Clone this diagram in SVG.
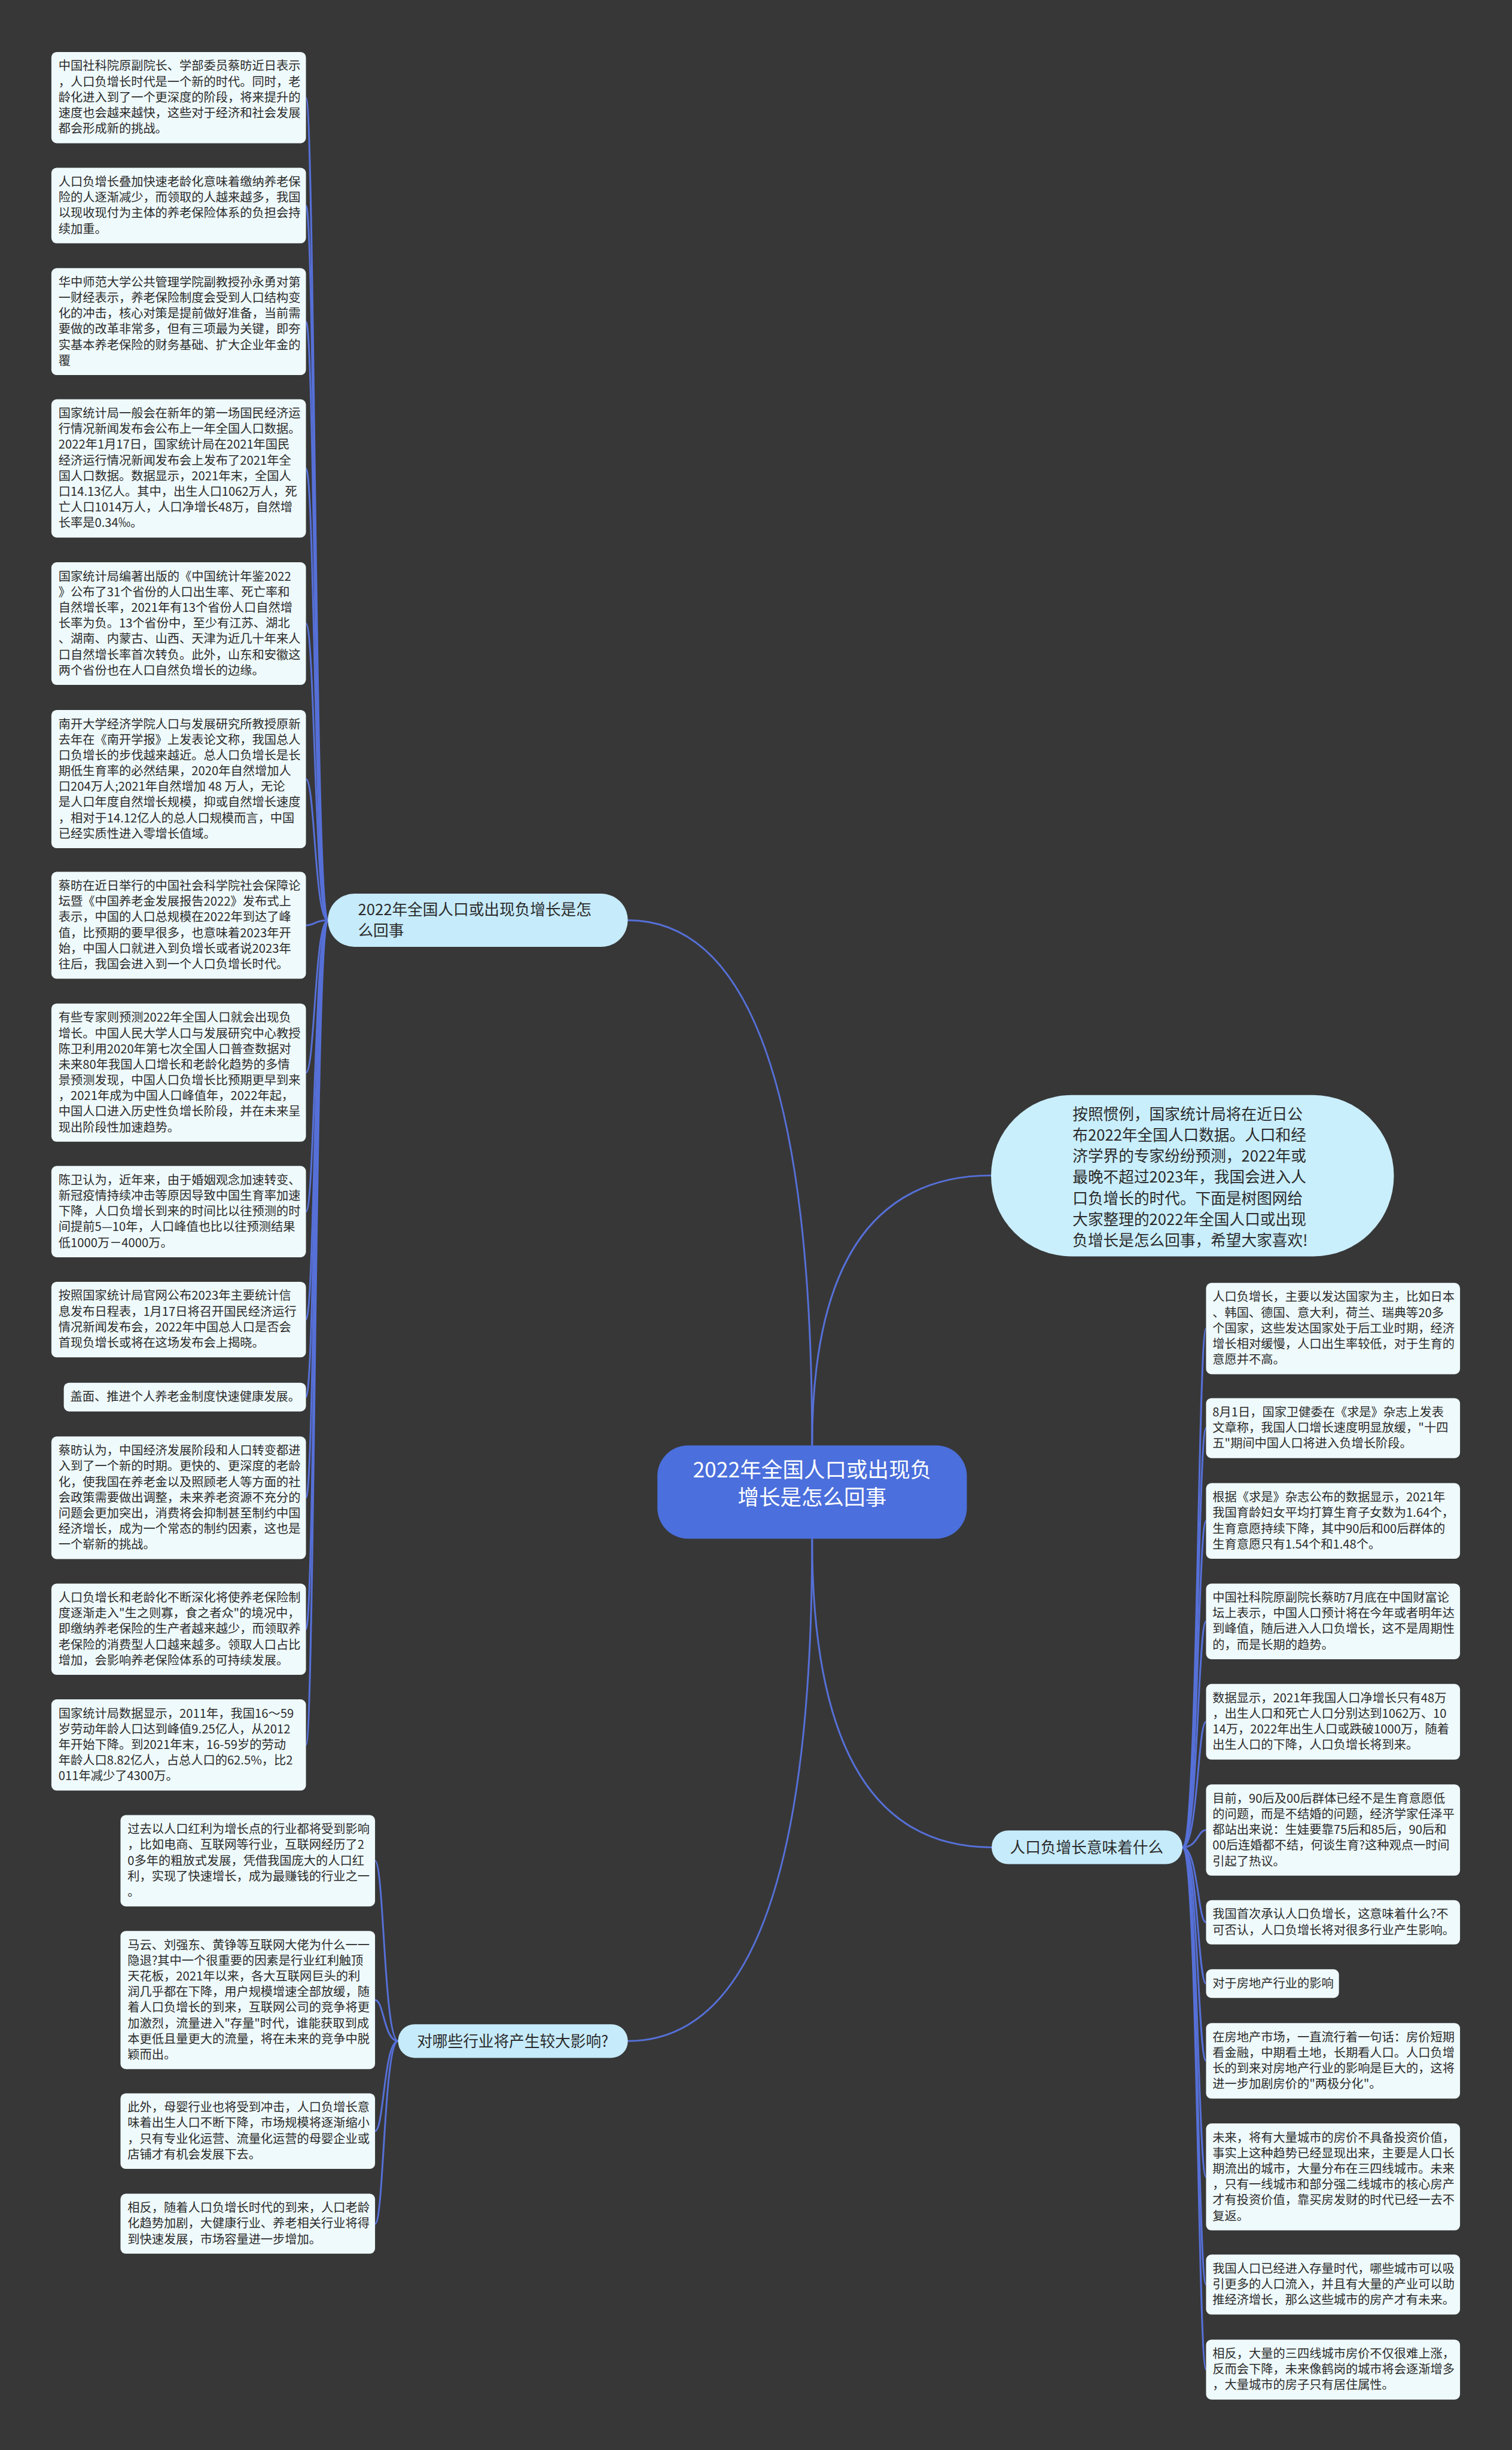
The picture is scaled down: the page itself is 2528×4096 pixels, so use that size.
<svg xmlns="http://www.w3.org/2000/svg" width="2528" height="4096" viewBox="0 0 2528 4096">
<style>
text{font-family:"Noto Sans CJK SC","Noto Sans",sans-serif;}
.lf{fill:#effafc;}
.lt{font-size:20.5px;fill:#2b2b2b;}
.br{fill:#c6ebfb;}
.bt{font-size:26px;fill:#2b2b2b;}
.ct{font-size:36px;fill:#ffffff;}
.cn{fill:none;stroke:#5670d8;stroke-width:3;}
</style>
<rect width="2528" height="4096" fill="#373737"/>
<g transform="scale(0.9875)">
<g id="connectors">
<path class="cn" d="M1375 2447 Q1375 1558 1063 1558"/>
<path class="cn" d="M1375 2447 Q1375 1990 1679 1990"/>
<path class="cn" d="M1375 2605 Q1375 3127.5 1679 3127.5"/>
<path class="cn" d="M1375 2605 Q1375 3455.5 1063 3455.5"/>
<path class="cn" d="M555 1558 C533 1558 533 165.25 518 165.25"/>
<path class="cn" d="M555 1558 C533 1558 533 348 518 348"/>
<path class="cn" d="M555 1558 C533 1558 533 544.5 518 544.5"/>
<path class="cn" d="M555 1558 C533 1558 533 793 518 793"/>
<path class="cn" d="M555 1558 C533 1558 533 1055.75 518 1055.75"/>
<path class="cn" d="M555 1558 C533 1558 533 1319 518 1319"/>
<path class="cn" d="M555 1558 C533 1558 533 1566.5 518 1566.5"/>
<path class="cn" d="M555 1558 C533 1558 533 1816 518 1816"/>
<path class="cn" d="M555 1558 C533 1558 533 2051.25 518 2051.25"/>
<path class="cn" d="M555 1558 C533 1558 533 2234 518 2234"/>
<path class="cn" d="M555 1558 C533 1558 533 2365.25 518 2365.25"/>
<path class="cn" d="M555 1558 C533 1558 533 2535.75 518 2535.75"/>
<path class="cn" d="M555 1558 C533 1558 533 2758.25 518 2758.25"/>
<path class="cn" d="M555 1558 C533 1558 533 2954.25 518 2954.25"/>
<path class="cn" d="M2002 3127.5 C2028 3127.5 2028 2249.25 2042 2249.25"/>
<path class="cn" d="M2002 3127.5 C2028 3127.5 2028 2417.75 2042 2417.75"/>
<path class="cn" d="M2002 3127.5 C2028 3127.5 2028 2575 2042 2575"/>
<path class="cn" d="M2002 3127.5 C2028 3127.5 2028 2745 2042 2745"/>
<path class="cn" d="M2002 3127.5 C2028 3127.5 2028 2915 2042 2915"/>
<path class="cn" d="M2002 3127.5 C2028 3127.5 2028 3098.25 2042 3098.25"/>
<path class="cn" d="M2002 3127.5 C2028 3127.5 2028 3254.5 2042 3254.5"/>
<path class="cn" d="M2002 3127.5 C2028 3127.5 2028 3358.25 2042 3358.25"/>
<path class="cn" d="M2002 3127.5 C2028 3127.5 2028 3489 2042 3489"/>
<path class="cn" d="M2002 3127.5 C2028 3127.5 2028 3685.5 2042 3685.5"/>
<path class="cn" d="M2002 3127.5 C2028 3127.5 2028 3867.75 2042 3867.75"/>
<path class="cn" d="M2002 3127.5 C2028 3127.5 2028 4011.75 2042 4011.75"/>
<path class="cn" d="M674 3455.5 C650 3455.5 650 3150.25 635 3150.25"/>
<path class="cn" d="M674 3455.5 C650 3455.5 650 3386 635 3386"/>
<path class="cn" d="M674 3455.5 C650 3455.5 650 3608 635 3608"/>
<path class="cn" d="M674 3455.5 C650 3455.5 650 3764.75 635 3764.75"/>
</g>

<g id="center">
<rect x="1113" y="2447" width="524" height="158" rx="52" fill="#4b6fdc"/>
<text class="ct" text-anchor="middle"><tspan x="1375" y="2501">2022年全国人口或出现负</tspan><tspan x="1375" y="2548">增长是怎么回事</tspan></text>
</g>

<g id="intro">
<rect x="1678" y="1854" width="682" height="273" rx="136" fill="#c9eefc"/>
<text class="bt"><tspan x="1816" y="1896">按照惯例，国家统计局将在近日公</tspan><tspan x="1816" dy="35.5">布2022年全国人口数据。人口和经</tspan><tspan x="1816" dy="35.5">济学界的专家纷纷预测，2022年或</tspan><tspan x="1816" dy="35.5">最晚不超过2023年，我国会进入人</tspan><tspan x="1816" dy="35.5">口负增长的时代。下面是树图网给</tspan><tspan x="1816" dy="35.5">大家整理的2022年全国人口或出现</tspan><tspan x="1816" dy="35.5">负增长是怎么回事，希望大家喜欢!</tspan></text>
</g>

<g id="branch1">
<rect class="br" x="555" y="1513" width="508" height="90" rx="45"/>
<text class="bt"><tspan x="606" y="1549">2022年全国人口或出现负增长是怎</tspan><tspan x="606" dy="35.5">么回事</tspan></text>
</g>
<g id="branch2">
<rect class="br" x="1679" y="3099" width="323" height="57" rx="28"/>
<text class="bt" x="1710" y="3137">人口负增长意味着什么</text>
</g>
<g id="branch3">
<rect class="br" x="674" y="3427" width="389" height="57" rx="28"/>
<text class="bt" x="706" y="3465">对哪些行业将产生较大影响?</text>
</g>

<g id="L1"><rect class="lf" x="87" y="88" width="431" height="154.5" rx="9"/><text class="lt"><tspan x="99" y="119">中国社科院原副院长、学部委员蔡昉近日表示</tspan><tspan x="99" dy="26.5">，人口负增长时代是一个新的时代。同时，老</tspan><tspan x="99" dy="26.5">龄化进入到了一个更深度的阶段，将来提升的</tspan><tspan x="99" dy="26.5">速度也会越来越快，这些对于经济和社会发展</tspan><tspan x="99" dy="26.5">都会形成新的挑战。</tspan></text></g>
<g id="L2"><rect class="lf" x="87" y="284" width="431" height="128" rx="9"/><text class="lt"><tspan x="99" y="315">人口负增长叠加快速老龄化意味着缴纳养老保</tspan><tspan x="99" dy="26.5">险的人逐渐减少，而领取的人越来越多，我国</tspan><tspan x="99" dy="26.5">以现收现付为主体的养老保险体系的负担会持</tspan><tspan x="99" dy="26.5">续加重。</tspan></text></g>
<g id="L3"><rect class="lf" x="87" y="454" width="431" height="181" rx="9"/><text class="lt"><tspan x="99" y="485">华中师范大学公共管理学院副教授孙永勇对第</tspan><tspan x="99" dy="26.5">一财经表示，养老保险制度会受到人口结构变</tspan><tspan x="99" dy="26.5">化的冲击，核心对策是提前做好准备，当前需</tspan><tspan x="99" dy="26.5">要做的改革非常多，但有三项最为关键，即夯</tspan><tspan x="99" dy="26.5">实基本养老保险的财务基础、扩大企业年金的</tspan><tspan x="99" dy="26.5">覆</tspan></text></g>
<g id="L4"><rect class="lf" x="87" y="676" width="431" height="234" rx="9"/><text class="lt"><tspan x="99" y="707">国家统计局一般会在新年的第一场国民经济运</tspan><tspan x="99" dy="26.5">行情况新闻发布会公布上一年全国人口数据。</tspan><tspan x="99" dy="26.5">2022年1月17日，国家统计局在2021年国民</tspan><tspan x="99" dy="26.5">经济运行情况新闻发布会上发布了2021年全</tspan><tspan x="99" dy="26.5">国人口数据。数据显示，2021年末，全国人</tspan><tspan x="99" dy="26.5">口14.13亿人。其中，出生人口1062万人，死</tspan><tspan x="99" dy="26.5">亡人口1014万人，人口净增长48万，自然增</tspan><tspan x="99" dy="26.5">长率是0.34‰。</tspan></text></g>
<g id="L5"><rect class="lf" x="87" y="952" width="431" height="207.5" rx="9"/><text class="lt"><tspan x="99" y="983">国家统计局编著出版的《中国统计年鉴2022</tspan><tspan x="99" dy="26.5">》公布了31个省份的人口出生率、死亡率和</tspan><tspan x="99" dy="26.5">自然增长率，2021年有13个省份人口自然增</tspan><tspan x="99" dy="26.5">长率为负。13个省份中，至少有江苏、湖北</tspan><tspan x="99" dy="26.5">、湖南、内蒙古、山西、天津为近几十年来人</tspan><tspan x="99" dy="26.5">口自然增长率首次转负。此外，山东和安徽这</tspan><tspan x="99" dy="26.5">两个省份也在人口自然负增长的边缘。</tspan></text></g>
<g id="L6"><rect class="lf" x="87" y="1202" width="431" height="234" rx="9"/><text class="lt"><tspan x="99" y="1233">南开大学经济学院人口与发展研究所教授原新</tspan><tspan x="99" dy="26.5">去年在《南开学报》上发表论文称，我国总人</tspan><tspan x="99" dy="26.5">口负增长的步伐越来越近。总人口负增长是长</tspan><tspan x="99" dy="26.5">期低生育率的必然结果，2020年自然增加人</tspan><tspan x="99" dy="26.5">口204万人;2021年自然增加 48 万人，无论</tspan><tspan x="99" dy="26.5">是人口年度自然增长规模，抑或自然增长速度</tspan><tspan x="99" dy="26.5">，相对于14.12亿人的总人口规模而言，中国</tspan><tspan x="99" dy="26.5">已经实质性进入零增长值域。</tspan></text></g>
<g id="L7"><rect class="lf" x="87" y="1476" width="431" height="181" rx="9"/><text class="lt"><tspan x="99" y="1507">蔡昉在近日举行的中国社会科学院社会保障论</tspan><tspan x="99" dy="26.5">坛暨《中国养老金发展报告2022》发布式上</tspan><tspan x="99" dy="26.5">表示，中国的人口总规模在2022年到达了峰</tspan><tspan x="99" dy="26.5">值，比预期的要早很多，也意味着2023年开</tspan><tspan x="99" dy="26.5">始，中国人口就进入到负增长或者说2023年</tspan><tspan x="99" dy="26.5">往后，我国会进入到一个人口负增长时代。</tspan></text></g>
<g id="L8"><rect class="lf" x="87" y="1699" width="431" height="234" rx="9"/><text class="lt"><tspan x="99" y="1730">有些专家则预测2022年全国人口就会出现负</tspan><tspan x="99" dy="26.5">增长。中国人民大学人口与发展研究中心教授</tspan><tspan x="99" dy="26.5">陈卫利用2020年第七次全国人口普查数据对</tspan><tspan x="99" dy="26.5">未来80年我国人口增长和老龄化趋势的多情</tspan><tspan x="99" dy="26.5">景预测发现，中国人口负增长比预期更早到来</tspan><tspan x="99" dy="26.5">，2021年成为中国人口峰值年，2022年起，</tspan><tspan x="99" dy="26.5">中国人口进入历史性负增长阶段，并在未来呈</tspan><tspan x="99" dy="26.5">现出阶段性加速趋势。</tspan></text></g>
<g id="L9"><rect class="lf" x="87" y="1974" width="431" height="154.5" rx="9"/><text class="lt"><tspan x="99" y="2005">陈卫认为，近年来，由于婚姻观念加速转变、</tspan><tspan x="99" dy="26.5">新冠疫情持续冲击等原因导致中国生育率加速</tspan><tspan x="99" dy="26.5">下降，人口负增长到来的时间比以往预测的时</tspan><tspan x="99" dy="26.5">间提前5—10年，人口峰值也比以往预测结果</tspan><tspan x="99" dy="26.5">低1000万－4000万。</tspan></text></g>
<g id="L10"><rect class="lf" x="87" y="2170" width="431" height="128" rx="9"/><text class="lt"><tspan x="99" y="2201">按照国家统计局官网公布2023年主要统计信</tspan><tspan x="99" dy="26.5">息发布日程表，1月17日将召开国民经济运行</tspan><tspan x="99" dy="26.5">情况新闻发布会，2022年中国总人口是否会</tspan><tspan x="99" dy="26.5">首现负增长或将在这场发布会上揭晓。</tspan></text></g>
<g id="L11"><rect class="lf" x="108" y="2341" width="410" height="48.5" rx="9"/><text class="lt" x="119" y="2372">盖面、推进个人养老金制度快速健康发展。</text></g>
<g id="L12"><rect class="lf" x="87" y="2432" width="431" height="207.5" rx="9"/><text class="lt"><tspan x="99" y="2463">蔡昉认为，中国经济发展阶段和人口转变都进</tspan><tspan x="99" dy="26.5">入到了一个新的时期。更快的、更深度的老龄</tspan><tspan x="99" dy="26.5">化，使我国在养老金以及照顾老人等方面的社</tspan><tspan x="99" dy="26.5">会政策需要做出调整，未来养老资源不充分的</tspan><tspan x="99" dy="26.5">问题会更加突出，消费将会抑制甚至制约中国</tspan><tspan x="99" dy="26.5">经济增长，成为一个常态的制约因素，这也是</tspan><tspan x="99" dy="26.5">一个崭新的挑战。</tspan></text></g>
<g id="L13"><rect class="lf" x="87" y="2681" width="431" height="154.5" rx="9"/><text class="lt"><tspan x="99" y="2712">人口负增长和老龄化不断深化将使养老保险制</tspan><tspan x="99" dy="26.5">度逐渐走入"生之则寡，食之者众"的境况中，</tspan><tspan x="99" dy="26.5">即缴纳养老保险的生产者越来越少，而领取养</tspan><tspan x="99" dy="26.5">老保险的消费型人口越来越多。领取人口占比</tspan><tspan x="99" dy="26.5">增加，会影响养老保险体系的可持续发展。</tspan></text></g>
<g id="L14"><rect class="lf" x="87" y="2877" width="431" height="154.5" rx="9"/><text class="lt"><tspan x="99" y="2908">国家统计局数据显示，2011年，我国16～59</tspan><tspan x="99" dy="26.5">岁劳动年龄人口达到峰值9.25亿人，从2012</tspan><tspan x="99" dy="26.5">年开始下降。到2021年末，16-59岁的劳动</tspan><tspan x="99" dy="26.5">年龄人口8.82亿人，占总人口的62.5%，比2</tspan><tspan x="99" dy="26.5">011年减少了4300万。</tspan></text></g>

<g id="R1"><rect class="lf" x="2042" y="2172" width="430" height="154.5" rx="9"/><text class="lt"><tspan x="2053" y="2203">人口负增长，主要以发达国家为主，比如日本</tspan><tspan x="2053" dy="26.5">、韩国、德国、意大利，荷兰、瑞典等20多</tspan><tspan x="2053" dy="26.5">个国家，这些发达国家处于后工业时期，经济</tspan><tspan x="2053" dy="26.5">增长相对缓慢，人口出生率较低，对于生育的</tspan><tspan x="2053" dy="26.5">意愿并不高。</tspan></text></g>
<g id="R2"><rect class="lf" x="2042" y="2367" width="430" height="101.5" rx="9"/><text class="lt"><tspan x="2053" y="2398">8月1日，国家卫健委在《求是》杂志上发表</tspan><tspan x="2053" dy="26.5">文章称，我国人口增长速度明显放缓，"十四</tspan><tspan x="2053" dy="26.5">五"期间中国人口将进入负增长阶段。</tspan></text></g>
<g id="R3"><rect class="lf" x="2042" y="2511" width="430" height="128" rx="9"/><text class="lt"><tspan x="2053" y="2542">根据《求是》杂志公布的数据显示，2021年</tspan><tspan x="2053" dy="26.5">我国育龄妇女平均打算生育子女数为1.64个，</tspan><tspan x="2053" dy="26.5">生育意愿持续下降，其中90后和00后群体的</tspan><tspan x="2053" dy="26.5">生育意愿只有1.54个和1.48个。</tspan></text></g>
<g id="R4"><rect class="lf" x="2042" y="2681" width="430" height="128" rx="9"/><text class="lt"><tspan x="2053" y="2712">中国社科院原副院长蔡昉7月底在中国财富论</tspan><tspan x="2053" dy="26.5">坛上表示，中国人口预计将在今年或者明年达</tspan><tspan x="2053" dy="26.5">到峰值，随后进入人口负增长，这不是周期性</tspan><tspan x="2053" dy="26.5">的，而是长期的趋势。</tspan></text></g>
<g id="R5"><rect class="lf" x="2042" y="2851" width="430" height="128" rx="9"/><text class="lt"><tspan x="2053" y="2882">数据显示，2021年我国人口净增长只有48万</tspan><tspan x="2053" dy="26.5">，出生人口和死亡人口分别达到1062万、10</tspan><tspan x="2053" dy="26.5">14万，2022年出生人口或跌破1000万，随着</tspan><tspan x="2053" dy="26.5">出生人口的下降，人口负增长将到来。</tspan></text></g>
<g id="R6"><rect class="lf" x="2042" y="3021" width="430" height="154.5" rx="9"/><text class="lt"><tspan x="2053" y="3052">目前，90后及00后群体已经不是生育意愿低</tspan><tspan x="2053" dy="26.5">的问题，而是不结婚的问题，经济学家任泽平</tspan><tspan x="2053" dy="26.5">都站出来说：生娃要靠75后和85后，90后和</tspan><tspan x="2053" dy="26.5">00后连婚都不结，何谈生育?这种观点一时间</tspan><tspan x="2053" dy="26.5">引起了热议。</tspan></text></g>
<g id="R7"><rect class="lf" x="2042" y="3217" width="430" height="75" rx="9"/><text class="lt"><tspan x="2053" y="3248">我国首次承认人口负增长，这意味着什么?不</tspan><tspan x="2053" dy="26.5">可否认，人口负增长将对很多行业产生影响。</tspan></text></g>
<g id="R8"><rect class="lf" x="2042" y="3334" width="225" height="48.5" rx="9"/><text class="lt" x="2053" y="3365">对于房地产行业的影响</text></g>
<g id="R9"><rect class="lf" x="2042" y="3425" width="430" height="128" rx="9"/><text class="lt"><tspan x="2053" y="3456">在房地产市场，一直流行着一句话：房价短期</tspan><tspan x="2053" dy="26.5">看金融，中期看土地，长期看人口。人口负增</tspan><tspan x="2053" dy="26.5">长的到来对房地产行业的影响是巨大的，这将</tspan><tspan x="2053" dy="26.5">进一步加剧房价的"两极分化"。</tspan></text></g>
<g id="R10"><rect class="lf" x="2042" y="3595" width="430" height="181" rx="9"/><text class="lt"><tspan x="2053" y="3626">未来，将有大量城市的房价不具备投资价值，</tspan><tspan x="2053" dy="26.5">事实上这种趋势已经显现出来，主要是人口长</tspan><tspan x="2053" dy="26.5">期流出的城市，大量分布在三四线城市。未来</tspan><tspan x="2053" dy="26.5">，只有一线城市和部分强二线城市的核心房产</tspan><tspan x="2053" dy="26.5">才有投资价值，靠买房发财的时代已经一去不</tspan><tspan x="2053" dy="26.5">复返。</tspan></text></g>
<g id="R11"><rect class="lf" x="2042" y="3817" width="430" height="101.5" rx="9"/><text class="lt"><tspan x="2053" y="3848">我国人口已经进入存量时代，哪些城市可以吸</tspan><tspan x="2053" dy="26.5">引更多的人口流入，并且有大量的产业可以助</tspan><tspan x="2053" dy="26.5">推经济增长，那么这些城市的房产才有未来。</tspan></text></g>
<g id="R12"><rect class="lf" x="2042" y="3961" width="430" height="101.5" rx="9"/><text class="lt"><tspan x="2053" y="3992">相反，大量的三四线城市房价不仅很难上涨，</tspan><tspan x="2053" dy="26.5">反而会下降，未来像鹤岗的城市将会逐渐增多</tspan><tspan x="2053" dy="26.5">，大量城市的房子只有居住属性。</tspan></text></g>

<g id="B1"><rect class="lf" x="204" y="3073" width="431" height="154.5" rx="9"/><text class="lt"><tspan x="216" y="3104">过去以人口红利为增长点的行业都将受到影响</tspan><tspan x="216" dy="26.5">，比如电商、互联网等行业，互联网经历了2</tspan><tspan x="216" dy="26.5">0多年的粗放式发展，凭借我国庞大的人口红</tspan><tspan x="216" dy="26.5">利，实现了快速增长，成为最赚钱的行业之一</tspan><tspan x="216" dy="26.5">。</tspan></text></g>
<g id="B2"><rect class="lf" x="204" y="3269" width="431" height="234" rx="9"/><text class="lt"><tspan x="216" y="3300">马云、刘强东、黄铮等互联网大佬为什么一一</tspan><tspan x="216" dy="26.5">隐退?其中一个很重要的因素是行业红利触顶</tspan><tspan x="216" dy="26.5">天花板，2021年以来，各大互联网巨头的利</tspan><tspan x="216" dy="26.5">润几乎都在下降，用户规模增速全部放缓，随</tspan><tspan x="216" dy="26.5">着人口负增长的到来，互联网公司的竞争将更</tspan><tspan x="216" dy="26.5">加激烈，流量进入"存量"时代，谁能获取到成</tspan><tspan x="216" dy="26.5">本更低且量更大的流量，将在未来的竞争中脱</tspan><tspan x="216" dy="26.5">颖而出。</tspan></text></g>
<g id="B3"><rect class="lf" x="204" y="3544" width="431" height="128" rx="9"/><text class="lt"><tspan x="216" y="3575">此外，母婴行业也将受到冲击，人口负增长意</tspan><tspan x="216" dy="26.5">味着出生人口不断下降，市场规模将逐渐缩小</tspan><tspan x="216" dy="26.5">，只有专业化运营、流量化运营的母婴企业或</tspan><tspan x="216" dy="26.5">店铺才有机会发展下去。</tspan></text></g>
<g id="B4"><rect class="lf" x="204" y="3714" width="431" height="101.5" rx="9"/><text class="lt"><tspan x="216" y="3745">相反，随着人口负增长时代的到来，人口老龄</tspan><tspan x="216" dy="26.5">化趋势加剧，大健康行业、养老相关行业将得</tspan><tspan x="216" dy="26.5">到快速发展，市场容量进一步增加。</tspan></text></g>
</g>
</svg>
